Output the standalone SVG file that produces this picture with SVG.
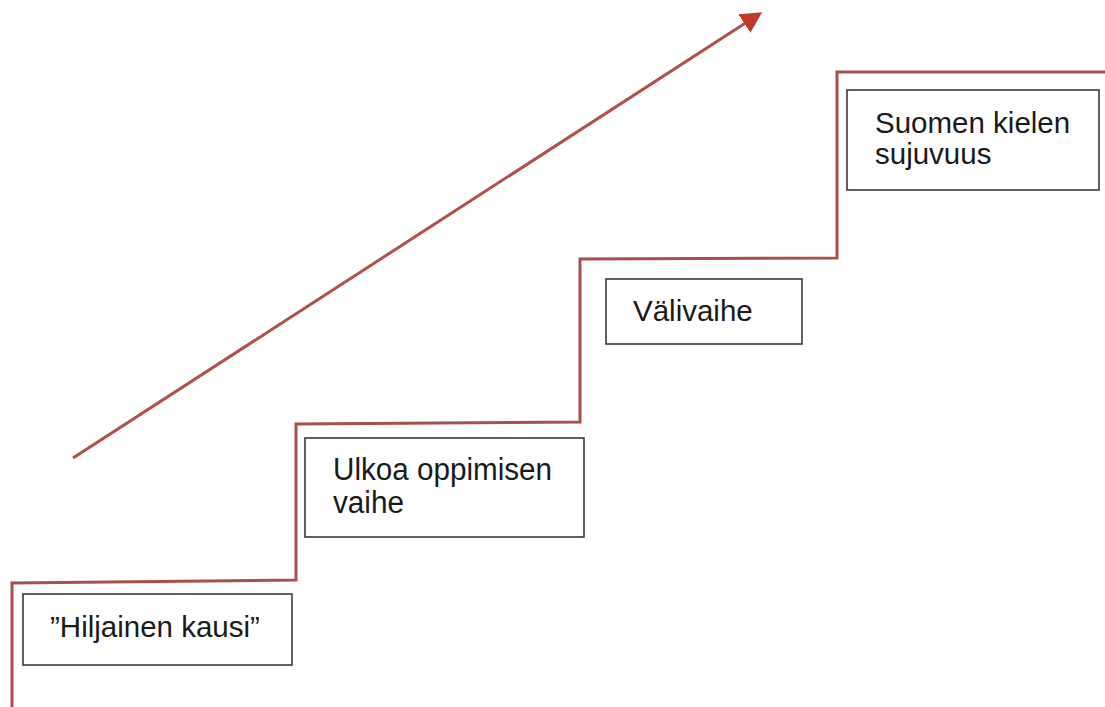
<svg xmlns="http://www.w3.org/2000/svg" width="1105" height="707" viewBox="0 0 1105 707">
<style>
.box{fill:#fff;stroke:#3a3a3a;stroke-width:1.6}
.lbl{font-family:"Liberation Sans",Arial,sans-serif;font-size:29.5px;fill:#1a1a1a}
.big{font-size:31px}
.stair{fill:none;stroke:#a8504c;stroke-width:3}
.arr{fill:none;stroke:#b0504a;stroke-width:3}
</style>
<defs>
<marker id="ah" markerWidth="21" markerHeight="22" refX="3" refY="11" orient="auto" markerUnits="userSpaceOnUse">
<path d="M0,0 L21,11 L0,22 Z" fill="#c0392b"/>
</marker>
</defs>
<rect width="1105" height="707" fill="#fff"/>
<g id="connectors">
<path class="stair" d="M12,707 L12,583 L296,580 L296,424 L580,422 L580,259 L837,258 L837,72 L1105,72"/>
<line class="arr" x1="73" y1="458" x2="747" y2="22" marker-end="url(#ah)"/>
</g>
<g id="node1">
<rect class="box" x="23" y="594" width="269" height="71"/>
<text class="lbl" x="50" y="636.5">”Hiljainen kausi”</text>
</g>
<g id="node2">
<rect class="box" x="305" y="438" width="279" height="99"/>
<text class="lbl big" x="333" y="480" textLength="219" lengthAdjust="spacingAndGlyphs">Ulkoa oppimisen</text>
<text class="lbl big" x="333" y="513" textLength="71" lengthAdjust="spacingAndGlyphs">vaihe</text>
</g>
<g id="node3">
<rect class="box" x="606" y="279" width="196" height="65"/>
<text class="lbl" x="633" y="321">Välivaihe</text>
</g>
<g id="node4">
<rect class="box" x="847" y="90" width="252" height="100"/>
<text class="lbl" x="875" y="132.5">Suomen kielen</text>
<text class="lbl" x="875" y="163.5">sujuvuus</text>
</g>
</svg>
